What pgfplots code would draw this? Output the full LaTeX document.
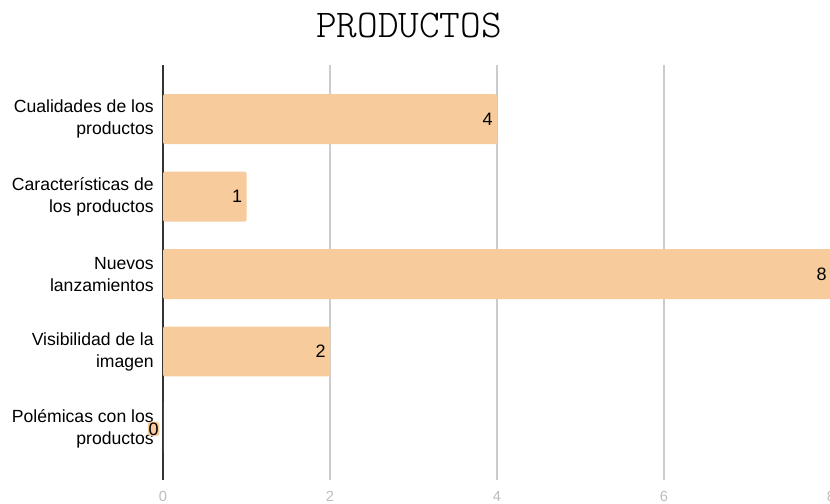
\documentclass[border=0pt]{standalone}
\usepackage{fontspec}
\setmainfont{Liberation Sans}
\newfontfamily\titlefont{Latin Modern Mono Light}
\usepackage{pgfplots}
\pgfplotsset{compat=1.18}
\definecolor{barc}{HTML}{F8CB9C}
\definecolor{gridc}{HTML}{CCCCCC}
\definecolor{axc}{HTML}{333333}
\definecolor{tickc}{HTML}{BDBDBD}
\begin{document}
\begin{tikzpicture}
\begin{axis}[
  at={(122.25pt,17.25pt)}, anchor=south west,
  scale only axis, width=501pt, height=311.25pt,
  xmin=0, xmax=8, ymin=-0.66, ymax=4.70,
  xbar, bar width=0.645,
  axis line style={draw=none},
  major tick length=0pt,
  xtick={2,4,6,8},
  extra x ticks={0},
  extra x tick style={grid style={draw=axc, line width=1.1pt}},
  xmajorgrids, grid style={draw=gridc, line width=0.8pt},
  /pgf/number format/assume math mode=true,
  xticklabel style={anchor=center, yshift=-12pt, inner sep=0pt, text=tickc, font=\fontsize{11}{12}\selectfont},
  ytick={0,1,2,3,4},
  yticklabels={{Polémicas con los\\productos},{Visibilidad de la\\imagen},{Nuevos\\lanzamientos},{Características de\\los productos},{Cualidades de los\\productos}},
  yticklabel style={align=right, anchor=east, inner sep=0pt, xshift=-6.75pt, font=\fontsize{13.2}{16.5}\selectfont, text=black},
  nodes near coords,
  every node near coord/.append style={anchor=east, xshift=-2.5pt, inner sep=0.6pt, fill=barc, rounded corners=2pt, font=\fontsize{13.5}{16}\selectfont, text=black},
  clip=false,
]
\addplot[draw=none, fill=barc, rounded corners=1.5pt] coordinates {(0,0) (2,1) (8,2) (1,3) (4,4)};
\end{axis}
\node[font=\titlefont\fontsize{29.5}{32}\selectfont, text=black] at (306.75pt,358.5pt) {PRODUCTOS};
\pgfresetboundingbox
\useasboundingbox (0,0) rectangle (622.5pt,377.25pt);
\end{tikzpicture}
\end{document}
